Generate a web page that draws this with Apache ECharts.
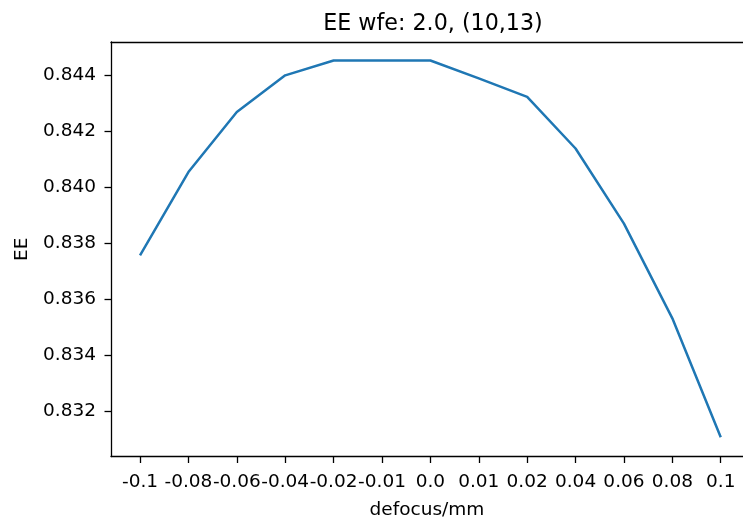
<!DOCTYPE html>
<html>
<head>
<meta charset="utf-8">
<script src="https://cdn.jsdelivr.net/npm/echarts@6/dist/echarts.min.js"></script>
<style>html,body{margin:0;padding:0;background:#fff}#c{width:743px;height:517px}</style>
</head>
<body>
<div id="c"></div>
<script>
const xLabels = ['-0.1','-0.08','-0.06','-0.04','-0.02','-0.01','0.0','0.01','0.02','0.04','0.06','0.08','0.1'];
const eeValues = [0.83758,0.84055,0.84269,0.84400,0.84453,0.84453,0.84453,0.84389,0.84323,0.84139,0.83871,0.83533,0.83109];
const yTicks = [0.832,0.834,0.836,0.838,0.840,0.842,0.844];

const xIdx = xLabels.map((_, i) => i);
const chart = echarts.init(document.getElementById('c'), null, {renderer: 'canvas'});
const font = 'DejaVu Sans';
const fs = 18.5;
chart.setOption({
  animation: false,
  backgroundColor: '#fff',
  title: {
    text: 'EE wfe: 2.0, (10,13)',
    left: 428, top: 8, textAlign: 'center',
    textStyle: {fontFamily: font, fontSize: 22.2, fontWeight: 'normal', color: '#000'}
  },
  grid: {left: 111, right: 0, top: 42, bottom: 60.5, show: false, containLabel: false, outerBoundsMode: 'none'},
  xAxis: [{
    type: 'value', min: -0.6, max: 12.46, position: 'bottom',
    name: 'defocus/mm', nameLocation: 'middle', nameGap: 44, nameMoveOverlap: false,
    nameTextStyle: {fontFamily: font, fontSize: fs, color: '#000'},
    axisLine: {show: true, onZero: false, lineStyle: {color: '#000', width: 1.3}},
    axisTick: {show: true, length: 6.5, lineStyle: {color: '#000', width: 1.3}, customValues: xIdx},
    axisLabel: {customValues: xIdx, margin: 16, fontFamily: font, fontSize: fs, color: '#000',
      formatter: v => xLabels[Math.round(v)]},
    splitLine: {show: false}
  }, {
    type: 'value', min: -0.6, max: 12.46, position: 'top',
    axisLine: {show: true, onZero: false, lineStyle: {color: '#000', width: 1.3}},
    axisTick: {show: false}, axisLabel: {show: false}, splitLine: {show: false}
  }],
  yAxis: {
    type: 'value', min: 0.8304, max: 0.84519,
    name: 'EE', nameLocation: 'middle', nameGap: 79, nameRotate: 90, nameMoveOverlap: false,
    nameTextStyle: {fontFamily: font, fontSize: fs, color: '#000'},
    axisLine: {show: true, onZero: false, lineStyle: {color: '#000', width: 1.3}},
    axisTick: {show: true, length: 6.5, lineStyle: {color: '#000', width: 1.3}, customValues: yTicks},
    axisLabel: {customValues: yTicks, margin: 15, fontFamily: font, fontSize: fs, color: '#000',
      formatter: v => v.toFixed(3)},
    splitLine: {show: false}
  },
  series: [{
    type: 'line',
    data: xIdx.map(i => [i, eeValues[i]]),
    symbol: 'none',
    lineStyle: {color: '#1f77b4', width: 2.5},
    clip: true
  }]
});
</script>
</body>
</html>
